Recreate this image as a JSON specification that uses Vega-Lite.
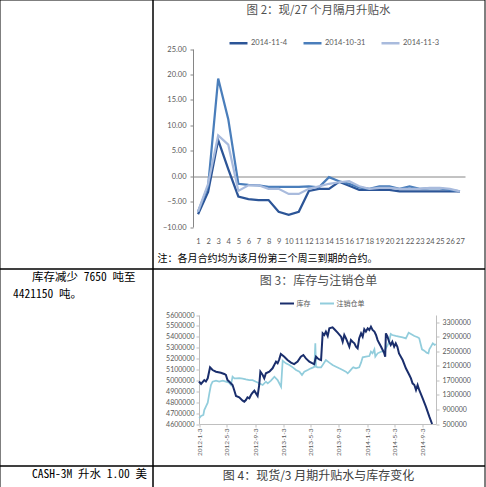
{
 "$schema": "https://vega.github.io/schema/vega-lite/v6.json",
 "padding": {"left": -1.5, "top": -1.5, "right": 0, "bottom": 0},
 "background": "#ffffff",
 "columns": 2,
 "spacing": 0,
 "bounds": "flush",
 "resolve": {"scale": {"color": "independent", "x": "independent", "y": "independent"}, "legend": {"color": "independent"}},
 "config": {
  "view": {"stroke": "#000000", "strokeWidth": 1},
  "font": "Noto Sans CJK SC",
  "axis": {"grid": false, "labelFont": "Lato", "labelColor": "#595959", "domainColor": "#BFBFBF", "tickColor": "#BFBFBF"},
  "legend": {"padding": 0, "titlePadding": 0},
  "title": {"font": "Noto Sans CJK SC", "fontWeight": "normal", "color": "#505050", "frame": "group", "anchor": "middle"}
 },
 "concat": [
  {
   "width": 153, "height": 269,
   "data": {"values": [{"t": ""}]},
   "mark": {"type": "text", "fontSize": 4},
   "encoding": {
    "x": {"datum": 0.5, "type": "quantitative", "scale": {"domain": [0, 1]}, "axis": null},
    "y": {"datum": 0.5, "type": "quantitative", "scale": {"domain": [0, 1]}, "axis": null},
    "text": {"field": "t"}
   }
  },
  {
   "width": 332, "height": 269,
   "title": {"text": "图 2：现/27 个月隔月升贴水", "fontSize": 11.5, "offset": -17},
   "data": {"values": [
    {"m":1,"v":-7.5,"s":"2014-11-4"},{"m":2,"v":-3.1,"s":"2014-11-4"},{"m":3,"v":7.1,"s":"2014-11-4"},{"m":4,"v":1.4,"s":"2014-11-4"},{"m":5,"v":-4.0,"s":"2014-11-4"},{"m":6,"v":-4.5,"s":"2014-11-4"},{"m":7,"v":-4.7,"s":"2014-11-4"},{"m":8,"v":-4.7,"s":"2014-11-4"},{"m":9,"v":-7.0,"s":"2014-11-4"},{"m":10,"v":-7.6,"s":"2014-11-4"},{"m":11,"v":-7.0,"s":"2014-11-4"},{"m":12,"v":-2.9,"s":"2014-11-4"},{"m":13,"v":-2.5,"s":"2014-11-4"},{"m":14,"v":-2.5,"s":"2014-11-4"},{"m":15,"v":-1.1,"s":"2014-11-4"},{"m":16,"v":-1.9,"s":"2014-11-4"},{"m":17,"v":-2.7,"s":"2014-11-4"},{"m":18,"v":-2.7,"s":"2014-11-4"},{"m":19,"v":-2.7,"s":"2014-11-4"},{"m":20,"v":-2.7,"s":"2014-11-4"},{"m":21,"v":-3.0,"s":"2014-11-4"},{"m":22,"v":-3.0,"s":"2014-11-4"},{"m":23,"v":-3.0,"s":"2014-11-4"},{"m":24,"v":-3.0,"s":"2014-11-4"},{"m":25,"v":-3.0,"s":"2014-11-4"},{"m":26,"v":-3.0,"s":"2014-11-4"},{"m":27,"v":-3.0,"s":"2014-11-4"},
    {"m":1,"v":-7.0,"s":"2014-10-31"},{"m":2,"v":-2.0,"s":"2014-10-31"},{"m":3,"v":19.2,"s":"2014-10-31"},{"m":4,"v":11.2,"s":"2014-10-31"},{"m":5,"v":-1.5,"s":"2014-10-31"},{"m":6,"v":-1.7,"s":"2014-10-31"},{"m":7,"v":-1.8,"s":"2014-10-31"},{"m":8,"v":-2.1,"s":"2014-10-31"},{"m":9,"v":-2.1,"s":"2014-10-31"},{"m":10,"v":-2.1,"s":"2014-10-31"},{"m":11,"v":-2.1,"s":"2014-10-31"},{"m":12,"v":-2.0,"s":"2014-10-31"},{"m":13,"v":-2.2,"s":"2014-10-31"},{"m":14,"v":-0.2,"s":"2014-10-31"},{"m":15,"v":-1.0,"s":"2014-10-31"},{"m":16,"v":-1.5,"s":"2014-10-31"},{"m":17,"v":-2.2,"s":"2014-10-31"},{"m":18,"v":-2.5,"s":"2014-10-31"},{"m":19,"v":-2.0,"s":"2014-10-31"},{"m":20,"v":-2.0,"s":"2014-10-31"},{"m":21,"v":-2.5,"s":"2014-10-31"},{"m":22,"v":-2.0,"s":"2014-10-31"},{"m":23,"v":-2.5,"s":"2014-10-31"},{"m":24,"v":-2.4,"s":"2014-10-31"},{"m":25,"v":-2.4,"s":"2014-10-31"},{"m":26,"v":-2.7,"s":"2014-10-31"},{"m":27,"v":-3.0,"s":"2014-10-31"},
    {"m":1,"v":-7.0,"s":"2014-11-3"},{"m":2,"v":-1.5,"s":"2014-11-3"},{"m":3,"v":8.0,"s":"2014-11-3"},{"m":4,"v":6.2,"s":"2014-11-3"},{"m":5,"v":-2.9,"s":"2014-11-3"},{"m":6,"v":-1.8,"s":"2014-11-3"},{"m":7,"v":-1.8,"s":"2014-11-3"},{"m":8,"v":-2.5,"s":"2014-11-3"},{"m":9,"v":-2.5,"s":"2014-11-3"},{"m":10,"v":-3.5,"s":"2014-11-3"},{"m":11,"v":-3.5,"s":"2014-11-3"},{"m":12,"v":-2.5,"s":"2014-11-3"},{"m":13,"v":-2.0,"s":"2014-11-3"},{"m":14,"v":-1.5,"s":"2014-11-3"},{"m":15,"v":-1.2,"s":"2014-11-3"},{"m":16,"v":-1.0,"s":"2014-11-3"},{"m":17,"v":-2.0,"s":"2014-11-3"},{"m":18,"v":-2.5,"s":"2014-11-3"},{"m":19,"v":-2.3,"s":"2014-11-3"},{"m":20,"v":-2.3,"s":"2014-11-3"},{"m":21,"v":-2.5,"s":"2014-11-3"},{"m":22,"v":-2.5,"s":"2014-11-3"},{"m":23,"v":-2.5,"s":"2014-11-3"},{"m":24,"v":-2.3,"s":"2014-11-3"},{"m":25,"v":-2.3,"s":"2014-11-3"},{"m":26,"v":-2.5,"s":"2014-11-3"},{"m":27,"v":-3.0,"s":"2014-11-3"}
   ]},
   "mark": {"type": "line", "strokeWidth": 2.25},
   "encoding": {
    "x": {"field": "m", "type": "ordinal",
     "scale": {"type": "point", "padding": 0.5, "range": [40.5, 312.5]},
     "axis": {"orient": "bottom", "offset": -41.5, "domain": false, "ticks": false, "labelAngle": 0, "labelFontSize": 7.5, "labelPadding": 10, "labelOverlap": false,
      "title": "注：各月合约均为该月份第三个周三到期的合约。", "titleFont": "Noto Sans CJK SC", "titleFontSize": 10, "titleFontWeight": "normal", "titleColor": "#000000", "titleX": 4.5, "titleY": 31, "titleAlign": "left", "titleBaseline": "middle", "titleAnchor": "start"}},
    "y": {"field": "v", "type": "quantitative",
     "scale": {"domain": [-10, 25], "range": [227.5, 49.5], "nice": false, "zero": false},
     "axis": {"orient": "left", "offset": -40.5, "values": [-10, -5, 0, 5, 10, 15, 20, 25], "format": ".2f", "labelFontSize": 7.5, "labelPadding": 4, "tickSize": 3, "domainColor": "#868686", "tickColor": "#868686", "title": null,
      "grid": true, "gridColor": {"condition": {"test": "datum.value === 0", "value": "#868686"}, "value": "transparent"}}},
    "color": {"field": "s", "type": "nominal",
     "scale": {"domain": ["2014-11-4", "2014-10-31", "2014-11-3"], "range": ["#2C5597", "#4A7EBB", "#A9BBDD"]},
     "legend": {"orient": "none", "legendX": 75.5, "legendY": 33, "direction": "horizontal", "title": null, "symbolType": "stroke", "symbolSize": 324, "symbolStrokeWidth": 2.5, "labelFont": "Lato", "labelFontSize": 7.5, "labelColor": "#595959", "labelOffset": 2, "columnPadding": 10}}
   }
  },
  {
   "width": 153, "height": 197,
   "encoding": {
    "x": {"datum": 0, "type": "quantitative", "scale": {"domain": [0, 1]}, "axis": null},
    "y": {"datum": 1, "type": "quantitative", "scale": {"domain": [0, 1]}, "axis": null},
    "text": {"field": "t"}
   },
   "layer": [
    {"data": {"values": [{"t": "库存减少 7650 吨至"}]},
     "mark": {"type": "text", "align": "left", "baseline": "middle", "dx": 32.5, "dy": 9.5, "fontSize": 11.5, "font": "Noto Sans Mono CJK SC, Noto Sans CJK SC", "color": "#000000"}},
    {"data": {"values": [{"t": "4421150 吨。"}]},
     "mark": {"type": "text", "align": "left", "baseline": "middle", "dx": 13.5, "dy": 26.5, "fontSize": 11.5, "font": "Noto Sans Mono CJK SC, Noto Sans CJK SC", "color": "#000000"}}
   ]
  },
  {
   "width": 332, "height": 197,
   "title": {"text": "图 3：库存与注销仓单", "fontSize": 12, "offset": -19},
   "layer": [
    {
     "data": {"values": [
      {"d":"2012-01-04","v":657000},{"d":"2012-01-12","v":720000},{"d":"2012-01-22","v":750000},{"d":"2012-01-26","v":885000},{"d":"2012-02-02","v":976000},{"d":"2012-02-10","v":1086000},{"d":"2012-02-17","v":1345000},{"d":"2012-02-24","v":1573000},{"d":"2012-03-02","v":1665000},{"d":"2012-03-17","v":1692000},{"d":"2012-03-31","v":1665000},{"d":"2012-04-15","v":1692000},{"d":"2012-04-29","v":1665000},{"d":"2012-05-13","v":1637000},{"d":"2012-05-21","v":1573000},{"d":"2012-05-28","v":1802000},{"d":"2012-06-05","v":1756000},{"d":"2012-06-12","v":1756000},{"d":"2012-06-26","v":1760000},{"d":"2012-07-11","v":1750000},{"d":"2012-07-25","v":1728000},{"d":"2012-08-09","v":1710000},{"d":"2012-08-23","v":1705000},{"d":"2012-09-07","v":1665000},{"d":"2012-09-21","v":1620000},{"d":"2012-10-06","v":1573000},{"d":"2012-10-20","v":1665000},{"d":"2012-10-28","v":1620000},{"d":"2012-11-11","v":1692000},{"d":"2012-11-26","v":1802000},{"d":"2012-12-10","v":1710000},{"d":"2012-12-25","v":1527000},
      {"d":"2013-01-01","v":2243000},{"d":"2013-01-15","v":2169000},{"d":"2013-01-30","v":2123000},{"d":"2013-02-14","v":2059000},{"d":"2013-02-28","v":1986000},{"d":"2013-03-15","v":1940000},{"d":"2013-03-26","v":1849000},{"d":"2013-04-05","v":1940000},{"d":"2013-04-20","v":1986000},{"d":"2013-05-04","v":2032000},{"d":"2013-05-14","v":2059000},{"d":"2013-05-19","v":2078000},{"d":"2013-05-23","v":2721000},{"d":"2013-05-26","v":2078000},{"d":"2013-06-02","v":2059000},{"d":"2013-06-17","v":2059000},{"d":"2013-06-24","v":2123000},{"d":"2013-07-08","v":2261000},{"d":"2013-07-23","v":2188000},{"d":"2013-08-06","v":2123000},{"d":"2013-08-21","v":2078000},{"d":"2013-09-04","v":2032000},{"d":"2013-09-19","v":1986000},{"d":"2013-10-03","v":1940000},{"d":"2013-10-11","v":1895000},{"d":"2013-10-18","v":1940000},{"d":"2013-10-30","v":2032000},{"d":"2013-11-04","v":2059000},{"d":"2013-11-16","v":2032000},{"d":"2013-11-30","v":2059000},{"d":"2013-12-08","v":2188000},{"d":"2013-12-15","v":2335000},{"d":"2013-12-29","v":2353000},
      {"d":"2014-01-13","v":2372000},{"d":"2014-01-20","v":2490000},{"d":"2014-01-27","v":2445000},{"d":"2014-02-04","v":2555000},{"d":"2014-02-08","v":2353000},{"d":"2014-02-18","v":2445000},{"d":"2014-03-05","v":2490000},{"d":"2014-03-19","v":2518000},{"d":"2014-03-26","v":2583000},{"d":"2014-04-03","v":2675000},{"d":"2014-04-09","v":2767000},{"d":"2014-04-16","v":2977000},{"d":"2014-04-23","v":2950000},{"d":"2014-05-08","v":2923000},{"d":"2014-05-22","v":2905000},{"d":"2014-06-07","v":2886000},{"d":"2014-06-21","v":2858000},{"d":"2014-07-03","v":3013000},{"d":"2014-07-13","v":2977000},{"d":"2014-07-28","v":2923000},{"d":"2014-08-11","v":2886000},{"d":"2014-08-18","v":2858000},{"d":"2014-08-30","v":2555000},{"d":"2014-09-09","v":2518000},{"d":"2014-09-19","v":2463000},{"d":"2014-09-27","v":2445000},{"d":"2014-10-01","v":2555000},{"d":"2014-10-08","v":2629000},{"d":"2014-10-16","v":2721000},{"d":"2014-10-24","v":2675000},{"d":"2014-10-29","v":2700000}
     ]},
     "mark": {"type": "line", "strokeWidth": 1.75},
     "encoding": {
      "x": {"field": "d", "type": "temporal",
       "scale": {"type": "utc", "domain": [{"year": 2012, "month": 1, "date": 3, "utc": true}, {"year": 2014, "month": 10, "date": 30, "utc": true}], "range": [46.5, 283.5]},
       "axis": {"orient": "bottom", "offset": -41.5, "format": "%Y-%-m-%-d", "labelAngle": 270, "labelAlign": "right", "labelBaseline": "middle", "labelFontSize": 6.5, "labelPadding": 1, "tickSize": 3, "labelOverlap": false, "labelFlush": false, "title": null,
        "values": [
         {"year":2012,"month":1,"date":3,"utc":true},{"year":2012,"month":3,"date":3,"utc":true},{"year":2012,"month":5,"date":3,"utc":true},{"year":2012,"month":7,"date":3,"utc":true},{"year":2012,"month":9,"date":3,"utc":true},{"year":2012,"month":11,"date":3,"utc":true},
         {"year":2013,"month":1,"date":3,"utc":true},{"year":2013,"month":3,"date":3,"utc":true},{"year":2013,"month":5,"date":3,"utc":true},{"year":2013,"month":7,"date":3,"utc":true},{"year":2013,"month":9,"date":3,"utc":true},{"year":2013,"month":11,"date":3,"utc":true},
         {"year":2014,"month":1,"date":3,"utc":true},{"year":2014,"month":3,"date":3,"utc":true},{"year":2014,"month":5,"date":3,"utc":true},{"year":2014,"month":7,"date":3,"utc":true},{"year":2014,"month":9,"date":3,"utc":true}
        ]}},
      "y": {"field": "v", "type": "quantitative",
       "scale": {"domain": [500000, 3500000], "range": [155.5, 46.5], "nice": false, "zero": false},
       "axis": {"orient": "right", "offset": -48.5, "values": [500000, 900000, 1300000, 1700000, 2100000, 2500000, 2900000, 3300000], "format": "d", "labelFontSize": 7, "labelPadding": 3, "tickSize": 3, "title": null}},
      "color": {"datum": "注销仓单", "type": "nominal",
       "scale": {"domain": ["库存", "注销仓单"], "range": ["#1A2E6C", "#92CDDC"]},
       "legend": {"orient": "none", "legendX": 126.5, "legendY": 27, "direction": "horizontal", "title": null, "symbolType": "stroke", "symbolSize": 196, "symbolStrokeWidth": 2, "labelFont": "Noto Sans CJK SC", "labelFontSize": 7, "labelColor": "#595959", "labelOffset": 1.5, "columnPadding": 5}}
     }
    },
    {
     "data": {"values": [
      {"d":"2012-01-03","v":4990000},{"d":"2012-01-12","v":4967000},{"d":"2012-01-26","v":5003000},{"d":"2012-02-02","v":4990000},{"d":"2012-02-10","v":5019000},{"d":"2012-02-20","v":5120000},{"d":"2012-03-02","v":5095000},{"d":"2012-03-17","v":5080000},{"d":"2012-04-07","v":5070000},{"d":"2012-04-22","v":5059000},{"d":"2012-04-29","v":5050000},{"d":"2012-05-06","v":5003000},{"d":"2012-05-13","v":4990000},{"d":"2012-05-28","v":4958000},{"d":"2012-06-04","v":4912000},{"d":"2012-06-12","v":4857000},{"d":"2012-06-26","v":4845000},{"d":"2012-07-11","v":4814000},{"d":"2012-07-18","v":4805000},{"d":"2012-07-25","v":4820000},{"d":"2012-08-01","v":4845000},{"d":"2012-08-09","v":4836000},{"d":"2012-08-16","v":4866000},{"d":"2012-08-23","v":4887000},{"d":"2012-08-31","v":4906000},{"d":"2012-09-07","v":4881000},{"d":"2012-09-14","v":4857000},{"d":"2012-09-21","v":4958000},{"d":"2012-09-26","v":5080000},{"d":"2012-10-06","v":5050000},{"d":"2012-10-13","v":5019000},{"d":"2012-10-20","v":5065000},{"d":"2012-11-04","v":5080000},{"d":"2012-11-18","v":5111000},{"d":"2012-12-03","v":5172000},{"d":"2012-12-10","v":5157000},{"d":"2012-12-17","v":5193000},{"d":"2012-12-24","v":5242000},
      {"d":"2013-01-08","v":5217000},{"d":"2013-01-22","v":5187000},{"d":"2013-02-06","v":5163000},{"d":"2013-02-20","v":5150000},{"d":"2013-03-07","v":5172000},{"d":"2013-03-21","v":5217000},{"d":"2013-04-01","v":5233000},{"d":"2013-04-12","v":5202000},{"d":"2013-04-27","v":5172000},{"d":"2013-05-11","v":5157000},{"d":"2013-05-18","v":5150000},{"d":"2013-05-26","v":5217000},{"d":"2013-06-02","v":5203000},{"d":"2013-06-09","v":5193000},{"d":"2013-06-17","v":5187000},{"d":"2013-06-24","v":5432000},{"d":"2013-07-01","v":5417000},{"d":"2013-07-08","v":5448000},{"d":"2013-07-16","v":5408000},{"d":"2013-07-23","v":5478000},{"d":"2013-08-06","v":5487000},{"d":"2013-08-14","v":5469000},{"d":"2013-08-28","v":5438000},{"d":"2013-09-12","v":5401000},{"d":"2013-09-19","v":5355000},{"d":"2013-09-26","v":5417000},{"d":"2013-10-03","v":5387000},{"d":"2013-10-11","v":5346000},{"d":"2013-10-18","v":5309000},{"d":"2013-10-25","v":5370000},{"d":"2013-11-01","v":5355000},{"d":"2013-11-09","v":5340000},{"d":"2013-11-16","v":5309000},{"d":"2013-11-23","v":5294000},{"d":"2013-11-30","v":5387000},{"d":"2013-12-08","v":5432000},{"d":"2013-12-15","v":5401000},{"d":"2013-12-22","v":5469000},{"d":"2013-12-29","v":5448000},
      {"d":"2014-01-06","v":5478000},{"d":"2014-01-13","v":5463000},{"d":"2014-01-20","v":5493000},{"d":"2014-01-27","v":5463000},{"d":"2014-02-04","v":5448000},{"d":"2014-02-11","v":5417000},{"d":"2014-02-18","v":5370000},{"d":"2014-02-25","v":5340000},{"d":"2014-03-05","v":5309000},{"d":"2014-03-12","v":5279000},{"d":"2014-03-19","v":5248000},{"d":"2014-03-23","v":5218000},{"d":"2014-03-26","v":5432000},{"d":"2014-04-02","v":5401000},{"d":"2014-04-09","v":5355000},{"d":"2014-04-16","v":5325000},{"d":"2014-04-23","v":5355000},{"d":"2014-05-01","v":5309000},{"d":"2014-05-08","v":5340000},{"d":"2014-05-15","v":5309000},{"d":"2014-05-22","v":5248000},{"d":"2014-06-07","v":5187000},{"d":"2014-06-21","v":5111000},{"d":"2014-07-06","v":5050000},{"d":"2014-07-13","v":5019000},{"d":"2014-07-20","v":4973000},{"d":"2014-07-28","v":4958000},{"d":"2014-08-04","v":4912000},{"d":"2014-08-11","v":4958000},{"d":"2014-08-18","v":4912000},{"d":"2014-09-02","v":4836000},{"d":"2014-09-16","v":4759000},{"d":"2014-10-01","v":4667000},{"d":"2014-10-13","v":4600000}
     ]},
     "mark": {"type": "line", "strokeWidth": 2},
     "encoding": {
      "x": {"field": "d", "type": "temporal"},
      "y": {"field": "v", "type": "quantitative",
       "scale": {"domain": [4600000, 5600000], "range": [155.5, 46.5], "nice": false, "zero": false},
       "axis": {"orient": "left", "offset": -46.5, "values": [4600000, 4700000, 4800000, 4900000, 5000000, 5100000, 5200000, 5300000, 5400000, 5500000, 5600000], "format": "d", "labelFontSize": 7, "labelPadding": 2, "tickSize": 3, "title": null}},
      "color": {"datum": "库存", "type": "nominal"}
     }
    }
   ],
   "resolve": {"scale": {"y": "independent"}}
  },
  {
   "width": 153, "height": 23,
   "data": {"values": [{"t": "CASH-3M 升水 1.00 美"}]},
   "mark": {"type": "text", "align": "left", "baseline": "middle", "dx": 32.5, "dy": 9.5, "fontSize": 11.5, "font": "Noto Sans Mono CJK SC, Noto Sans CJK SC", "color": "#000000"},
   "encoding": {
    "x": {"datum": 0, "type": "quantitative", "scale": {"domain": [0, 1]}, "axis": null},
    "y": {"datum": 1, "type": "quantitative", "scale": {"domain": [0, 1]}, "axis": null},
    "text": {"field": "t"}
   }
  },
  {
   "width": 332, "height": 23,
   "data": {"values": [{"t": "图 4：现货/3 月期升贴水与库存变化"}]},
   "mark": {"type": "text", "align": "center", "baseline": "middle", "dy": -1, "fontSize": 12, "font": "Noto Sans CJK SC", "color": "#404040"},
   "encoding": {
    "x": {"datum": 0.5, "type": "quantitative", "scale": {"domain": [0, 1]}, "axis": null},
    "y": {"datum": 0.5, "type": "quantitative", "scale": {"domain": [0, 1]}, "axis": null},
    "text": {"field": "t"}
   }
  }
 ]
}
